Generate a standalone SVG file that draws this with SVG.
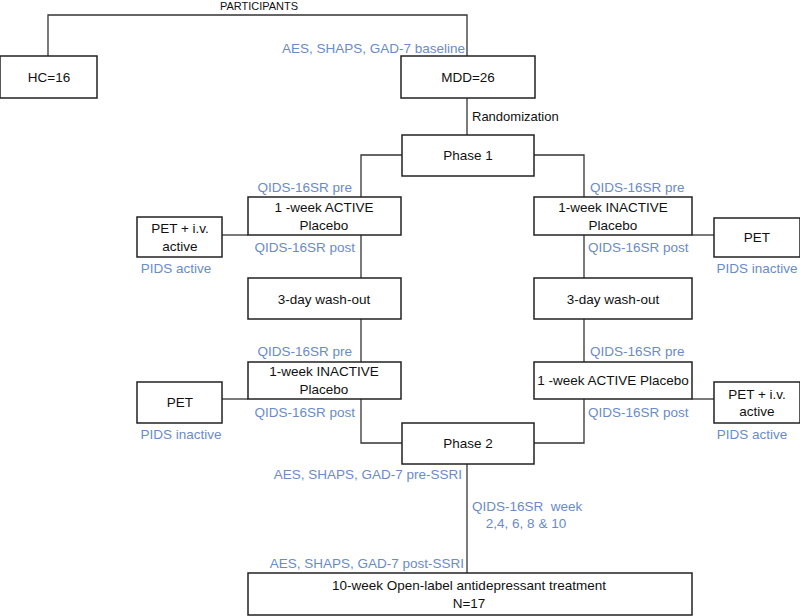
<svg xmlns="http://www.w3.org/2000/svg" width="800" height="616" viewBox="0 0 800 616">
<style>
.box{fill:#fff;stroke:#222;stroke-width:1.5}
.t{font-family:"Liberation Sans",Arial,Helvetica,sans-serif;font-size:13.5px;fill:#111}
.b{fill:#6a8bc9}
.m{text-anchor:middle}
.e{text-anchor:end}
.ln{fill:none;stroke:#333;stroke-width:1.3}
</style>
<rect width="800" height="616" fill="#fff"/>
<g id="connectors">
<path class="ln" d="M48,56 V15 H467 V56"/>
<path class="ln" d="M467,98 V135"/>
<path class="ln" d="M402,155 H361 V197"/>
<path class="ln" d="M534,155 H584 V197"/>
<path class="ln" d="M361,235 V278"/>
<path class="ln" d="M584,235 V278"/>
<path class="ln" d="M222,235 H248"/>
<path class="ln" d="M692,235 H714"/>
<path class="ln" d="M361,319 V362"/>
<path class="ln" d="M584,319 V362"/>
<path class="ln" d="M222,399 H248"/>
<path class="ln" d="M692,399 H714"/>
<path class="ln" d="M361,399 V443 H402"/>
<path class="ln" d="M584,399 V443 H534"/>
<path class="ln" d="M467,464 V573"/>
</g>
<g id="labels">
<text class="t m" x="259" y="10" style="font-size:11px">PARTICIPANTS</text>
<text class="t b e" x="465" y="53">AES, SHAPS, GAD-7 baseline</text>
<text class="t" x="472" y="121" style="font-size:13px">Randomization</text>
<text class="t b e" x="352" y="192">QIDS-16SR pre</text>
<text class="t b" x="590" y="192">QIDS-16SR pre</text>
<text class="t b e" x="355" y="252">QIDS-16SR post</text>
<text class="t b" x="588" y="252">QIDS-16SR post</text>
<text class="t b m" x="176" y="273">PIDS active</text>
<text class="t b m" x="757" y="273">PIDS inactive</text>
<text class="t b e" x="352" y="356">QIDS-16SR pre</text>
<text class="t b" x="590" y="356">QIDS-16SR pre</text>
<text class="t b e" x="355" y="417">QIDS-16SR post</text>
<text class="t b" x="588" y="417">QIDS-16SR post</text>
<text class="t b m" x="181" y="439">PIDS inactive</text>
<text class="t b m" x="752" y="439">PIDS active</text>
<text class="t b e" x="462" y="479">AES, SHAPS, GAD-7 pre-SSRI</text>
<text class="t b" x="472" y="511" xml:space="preserve">QIDS-16SR  week</text>
<text class="t b m" x="526" y="528">2,4, 6, 8 &amp; 10</text>
<text class="t b e" x="464" y="568">AES, SHAPS, GAD-7 post-SSRI</text>
</g>
<g id="hc">
<rect class="box" x="0" y="56" width="97" height="42"/>
<text class="t m" x="49" y="82">HC=16</text>
</g>
<g id="mdd">
<rect class="box" x="401" y="56" width="134" height="42"/>
<text class="t m" x="468" y="82">MDD=26</text>
</g>
<g id="phase1">
<rect class="box" x="402" y="135" width="132" height="41"/>
<text class="t m" x="468" y="160">Phase 1</text>
</g>
<g id="active1">
<rect class="box" x="248" y="197" width="153" height="38"/>
<text class="t m" x="324" y="212">1 -week ACTIVE</text>
<text class="t m" x="324" y="230">Placebo</text>
</g>
<g id="pet_active1">
<rect class="box" x="137" y="217" width="85" height="40"/>
<text class="t m" x="180" y="233">PET + i.v.</text>
<text class="t m" x="180" y="251">active</text>
</g>
<g id="inactive1">
<rect class="box" x="534" y="197" width="158" height="38"/>
<text class="t m" x="613" y="212">1-week INACTIVE</text>
<text class="t m" x="613" y="230">Placebo</text>
</g>
<g id="pet_inactive1">
<rect class="box" x="714" y="218" width="86" height="39"/>
<text class="t m" x="757" y="242">PET</text>
</g>
<g id="washout_left">
<rect class="box" x="248" y="278" width="153" height="41"/>
<text class="t m" x="324" y="304">3-day wash-out</text>
</g>
<g id="washout_right">
<rect class="box" x="534" y="278" width="158" height="41"/>
<text class="t m" x="613" y="304">3-day wash-out</text>
</g>
<g id="inactive2">
<rect class="box" x="248" y="362" width="153" height="37"/>
<text class="t m" x="324" y="376">1-week INACTIVE</text>
<text class="t m" x="324" y="394">Placebo</text>
</g>
<g id="pet_inactive2">
<rect class="box" x="137" y="382" width="85" height="41"/>
<text class="t m" x="180" y="407">PET</text>
</g>
<g id="active2">
<rect class="box" x="534" y="362" width="158" height="37"/>
<text class="t m" x="613" y="385">1 -week ACTIVE Placebo</text>
</g>
<g id="pet_active2">
<rect class="box" x="714" y="382" width="86" height="41"/>
<text class="t m" x="757" y="399">PET + i.v.</text>
<text class="t m" x="757" y="416">active</text>
</g>
<g id="phase2">
<rect class="box" x="402" y="423" width="132" height="41"/>
<text class="t m" x="468" y="448">Phase 2</text>
</g>
<g id="openlabel">
<rect class="box" x="248" y="573" width="444" height="42"/>
<text class="t m" x="469" y="590">10-week Open-label antidepressant treatment</text>
<text class="t m" x="469" y="608">N=17</text>
</g>
</svg>
